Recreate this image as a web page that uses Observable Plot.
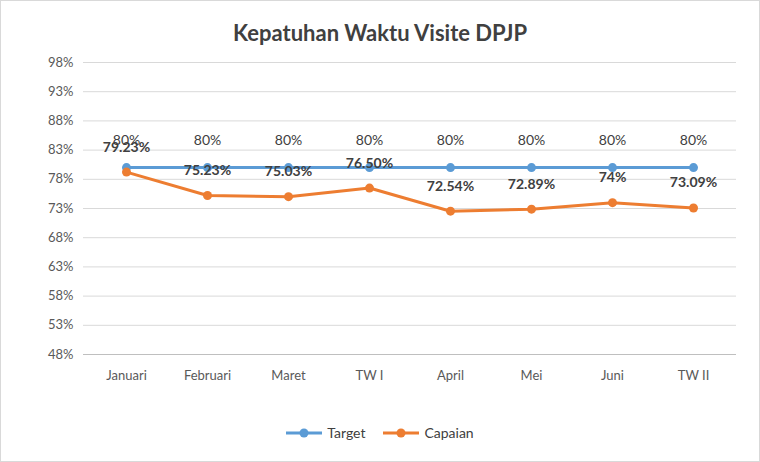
<!DOCTYPE html>
<html><head><meta charset="utf-8">
<script src="https://cdn.jsdelivr.net/npm/d3@7"></script>
<script src="https://cdn.jsdelivr.net/npm/@observablehq/plot@0.6"></script>
<style>
body{margin:0;background:#fff;font-family:Lato,"Open Sans",sans-serif;}
#wrap{width:758px;height:460px;border:1px solid #d9d9d9;position:relative;}
#title{height:50px;line-height:64px;text-align:center;font-size:22px;font-weight:bold;color:#404040;}
#legend{display:flex;justify-content:center;gap:18px;font-size:14px;color:#404040;margin-top:28px;}
.li{display:flex;align-items:center;gap:5px;}
</style></head><body>
<div id="wrap">
<div id="title">Kepatuhan Waktu Visite DPJP</div>
<div id="chart"></div>
<div id="legend"></div>
</div>
<script>
const categories=["Januari","Februari","Maret","TW I","April","Mei","Juni","TW II"];
const target=[80,80,80,80,80,80,80,80];
const capaian=[79.23,75.23,75.03,76.50,72.54,72.89,74,73.09];
const capaianLabels=["79.23%","75.23%","75.03%","76.50%","72.54%","72.89%","74%","73.09%"];
const yTicks=[48,53,58,63,68,73,78,83,88,93,98];
const colors={Target:"#5B9BD5",Capaian:"#ED7D31"};

const t=categories.map((c,i)=>({c,v:target[i],l:target[i]+"%"}));
const p=categories.map((c,i)=>({c,v:capaian[i],l:capaianLabels[i]}));

const chart=Plot.plot({
  width:758,height:345,marginTop:11,marginBottom:42,marginLeft:82,marginRight:23,
  style:{fontFamily:"Lato, 'Open Sans', sans-serif",fontSize:"13px",color:"#595959"},
  x:{type:"point",domain:categories,padding:0.5,label:null},
  y:{domain:[48,98],label:null},
  marks:[
    Plot.gridY(yTicks,{stroke:"#d9d9d9",strokeOpacity:1}),
    Plot.ruleY([48],{stroke:"#bfbfbf"}),
    Plot.axisY(yTicks,{tickSize:0,tickPadding:10,tickFormat:d=>d+"%",label:null,fontSize:13}),
    Plot.axisX({tickSize:0,tickPadding:16,label:null,fontSize:13}),
    Plot.line(t,{x:"c",y:"v",stroke:colors.Target,strokeWidth:3}),
    Plot.dot(t,{x:"c",y:"v",fill:colors.Target,r:4.5}),
    Plot.line(p,{x:"c",y:"v",stroke:colors.Capaian,strokeWidth:3}),
    Plot.dot(p,{x:"c",y:"v",fill:colors.Capaian,r:4.5}),
    Plot.text(t,{x:"c",y:"v",text:"l",dy:-27,fill:"#404040",fontSize:14}),
    Plot.text(p,{x:"c",y:"v",text:"l",dy:-25,fill:"#404040",fontSize:14,fontWeight:"bold"})
  ]
});
document.getElementById("chart").appendChild(chart);
const lg=document.getElementById("legend");
for(const k of ["Target","Capaian"]){
  lg.innerHTML+=`<div class="li"><svg width="36" height="12"><line x1="0" x2="36" y1="6" y2="6" stroke="${colors[k]}" stroke-width="3"/><circle cx="18" cy="6" r="4.5" fill="${colors[k]}"/></svg><span>${k}</span></div>`;
}
</script></body></html>
